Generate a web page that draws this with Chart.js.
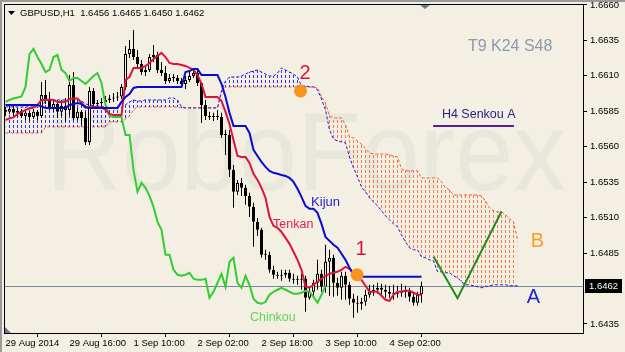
<!DOCTYPE html>
<html lang="en">
<head>
<meta charset="UTF-8">
<title>GBPUSD H1 Ichimoku</title>
<style>
    html, body { margin: 0; padding: 0; background: #f3f0e3; }
    #wrap { width: 625px; height: 352px; }
</style>
<script src="https://cdn.jsdelivr.net/npm/chart.js"></script>
</head>
<body>
<div id="wrap"><canvas id="chart" width="625" height="352"></canvas></div>
<script>
// H1 candles, bar 0 = 29 Aug 2014 00:00
const opens = [
    1.65860,1.65846,1.65867,1.65839,1.65853,1.65817,1.65839,1.65810,1.65846,1.65817,
    1.65965,1.65930,1.65874,1.65902,1.65846,1.65888,1.65860,1.66036,1.65803,1.65846,
    1.65803,1.65634,1.65994,1.65902,1.65909,1.65916,1.65930,1.65941,1.65948,1.65955,
    1.66022,1.66254,1.66290,1.66233,1.66184,1.66127,1.66142,1.66233,1.66247,1.66142,
    1.66120,1.66064,1.66085,1.66085,1.66064,1.66043,1.66071,1.66099,1.66120,1.66050,
    1.65895,1.65817,1.65810,1.65810,1.65810,1.65683,1.65683,1.65437,1.65282,1.65345,
    1.65310,1.65253,1.65176,1.65070,1.65014,1.64838,1.64838,1.64732,1.64697,1.64690,
    1.64697,1.64711,1.64669,1.64661,1.64661,1.64669,1.64534,1.64577,1.64640,1.64704,
    1.64612,1.64788,1.64816,1.64640,1.64605,1.64690,1.64626,1.64527,1.64499,1.64492,
    1.64506,1.64556,1.64577,1.64591,1.64605,1.64591,1.64577,1.64563,1.64563,1.64570,
    1.64584,1.64577,1.64541,1.64499,1.64560
];
const highs = [
    1.65881,1.65888,1.65895,1.65874,1.65867,1.65860,1.65853,1.65867,1.65860,1.66057,
    1.66071,1.65986,1.65930,1.65916,1.65930,1.65944,1.66106,1.66127,1.65874,1.65860,
    1.65846,1.66022,1.66015,1.65930,1.65944,1.65958,1.65965,1.65979,1.65986,1.66043,
    1.66311,1.66353,1.66424,1.66283,1.66212,1.66177,1.66254,1.66318,1.66268,1.66198,
    1.66170,1.66113,1.66113,1.66106,1.66085,1.66099,1.66142,1.66142,1.66142,1.66057,
    1.65930,1.65846,1.65839,1.65860,1.65839,1.65719,1.65719,1.65472,1.65366,1.65380,
    1.65331,1.65275,1.65204,1.65098,1.65028,1.64873,1.64859,1.64760,1.64718,1.64732,
    1.64732,1.64732,1.64704,1.64690,1.64704,1.64690,1.64605,1.64661,1.64802,1.64732,
    1.64908,1.64873,1.64838,1.64676,1.64718,1.64718,1.64647,1.64563,1.64549,1.64534,
    1.64591,1.64626,1.64626,1.64640,1.64633,1.64626,1.64619,1.64626,1.64619,1.64633,
    1.64619,1.64605,1.64577,1.64577,1.64650
];
const lows = [
    1.65817,1.65831,1.65817,1.65817,1.65803,1.65789,1.65782,1.65796,1.65789,1.65803,
    1.65902,1.65860,1.65846,1.65803,1.65817,1.65775,1.65824,1.65789,1.65789,1.65754,
    1.65613,1.65613,1.65874,1.65874,1.65874,1.65888,1.65909,1.65916,1.65923,1.65937,
    1.66001,1.66226,1.66212,1.66156,1.66106,1.66099,1.66127,1.66198,1.66120,1.66099,
    1.66043,1.66050,1.66057,1.66043,1.66015,1.66008,1.66057,1.66085,1.66029,1.65768,
    1.65789,1.65789,1.65782,1.65789,1.65662,1.65542,1.65387,1.65169,1.65260,1.65253,
    1.65190,1.65105,1.64894,1.64971,1.64816,1.64802,1.64711,1.64669,1.64669,1.64654,
    1.64676,1.64647,1.64633,1.64626,1.64591,1.64436,1.64520,1.64549,1.64591,1.64577,
    1.64570,1.64549,1.64541,1.64549,1.64520,1.64520,1.64485,1.64393,1.64429,1.64450,
    1.64478,1.64534,1.64549,1.64563,1.64556,1.64534,1.64534,1.64520,1.64534,1.64541,
    1.64534,1.64506,1.64478,1.64478,1.64500
];
const closes = [
    1.65846,1.65867,1.65839,1.65853,1.65817,1.65839,1.65810,1.65846,1.65817,1.65965,
    1.65930,1.65874,1.65902,1.65846,1.65888,1.65860,1.66036,1.65803,1.65846,1.65803,
    1.65634,1.65994,1.65902,1.65909,1.65916,1.65930,1.65941,1.65948,1.65955,1.66022,
    1.66254,1.66290,1.66233,1.66184,1.66127,1.66142,1.66233,1.66247,1.66142,1.66120,
    1.66064,1.66085,1.66085,1.66064,1.66043,1.66071,1.66099,1.66120,1.66050,1.65895,
    1.65817,1.65810,1.65810,1.65810,1.65683,1.65683,1.65437,1.65282,1.65345,1.65310,
    1.65253,1.65176,1.65070,1.65014,1.64838,1.64838,1.64732,1.64697,1.64690,1.64697,
    1.64711,1.64669,1.64661,1.64661,1.64669,1.64534,1.64577,1.64640,1.64704,1.64612,
    1.64788,1.64816,1.64640,1.64605,1.64690,1.64626,1.64527,1.64499,1.64492,1.64506,
    1.64556,1.64577,1.64591,1.64605,1.64591,1.64577,1.64563,1.64563,1.64570,1.64584,
    1.64577,1.64541,1.64499,1.64556,1.64620
];

// Ichimoku 9/24/48
const tenkan = [
    1.65789,1.65800,1.65807,1.65831,1.65846,1.65860,1.65870,1.65877,1.65895,1.65930,
    1.65930,1.65934,1.65930,1.65916,1.65916,1.65916,1.65937,1.65941,1.65941,1.65909,
    1.65881,1.65881,1.65881,1.65881,1.65877,1.65860,1.65831,1.65824,1.65824,1.65824,
    1.66071,1.66092,1.66156,1.66156,1.66156,1.66170,1.66191,1.66219,1.66240,1.66262,
    1.66233,1.66191,1.66184,1.66184,1.66177,1.66170,1.66156,1.66142,1.66106,1.66043,
    1.65951,1.65951,1.65951,1.65951,1.65923,1.65846,1.65761,1.65648,1.65535,1.65528,
    1.65528,1.65486,1.65409,1.65366,1.65310,1.65239,1.65105,1.65042,1.65028,1.64999,
    1.64957,1.64915,1.64859,1.64802,1.64732,1.64612,1.64605,1.64626,1.64647,1.64669,
    1.64690,1.64704,1.64711,1.64718,1.64732,1.64753,1.64739,1.64704,1.64697,1.64661,
    1.64619,1.64577,1.64577,1.64577,1.64549,1.64520,1.64513,1.64556,1.64577,1.64577,
    1.64584,1.64584,1.64570,1.64556,1.64556
];
const kijun = [
    1.65895,1.65895,1.65895,1.65895,1.65895,1.65895,1.65895,1.65895,1.65895,1.65884,
    1.65874,1.65874,1.65874,1.65874,1.65874,1.65874,1.65895,1.65902,1.65909,1.65902,
    1.65877,1.65874,1.65874,1.65874,1.65874,1.65874,1.65874,1.65874,1.65874,1.65916,
    1.65951,1.65972,1.66015,1.66022,1.66022,1.66022,1.66022,1.66022,1.66022,1.66022,
    1.66022,1.66022,1.66022,1.66022,1.66022,1.66127,1.66134,1.66149,1.66149,1.66106,
    1.66106,1.66106,1.66106,1.66106,1.66043,1.65951,1.65839,1.65747,1.65747,1.65747,
    1.65747,1.65697,1.65578,1.65535,1.65493,1.65458,1.65430,1.65416,1.65409,1.65401,
    1.65394,1.65380,1.65352,1.65303,1.65246,1.65183,1.65162,1.65162,1.65134,1.65056,
    1.64964,1.64936,1.64908,1.64887,1.64845,1.64802,1.64746,1.64704,1.64683,1.64683,
    1.64683,1.64683,1.64683,1.64683,1.64683,1.64683,1.64683,1.64683,1.64683,1.64683,
    1.64683,1.64683,1.64683,1.64683,1.64683
];
// cloud, already shifted 24 bars forward (bars 0..128)
const senkouA = [
    1.65881,1.65881,1.65881,1.65881,1.65881,1.65881,1.65881,1.65881,1.65881,1.65881,
    1.65923,1.65930,1.65930,1.65930,1.65930,1.65930,1.65930,1.65930,1.65930,1.65923,
    1.65902,1.65895,1.65891,1.65888,1.65884,1.65881,1.65877,1.65877,1.65877,1.65874,
    1.65895,1.65916,1.65930,1.65923,1.65923,1.65930,1.65930,1.65930,1.65930,1.65930,
    1.65930,1.65944,1.65944,1.65930,1.65881,1.65874,1.65874,1.65874,1.65874,1.65874,
    1.65874,1.65874,1.65874,1.65874,1.65994,1.66064,1.66092,1.66092,1.66092,1.66099,
    1.66113,1.66127,1.66134,1.66142,1.66127,1.66113,1.66099,1.66099,1.66120,1.66156,
    1.66142,1.66127,1.66113,1.66092,1.66029,1.66029,1.66022,1.66022,1.66001,1.65937,
    1.65860,1.65719,1.65655,1.65641,1.65634,1.65627,1.65528,1.65451,1.65387,1.65317,
    1.65282,1.65239,1.65211,1.65183,1.65148,1.65113,1.65084,1.65056,1.65035,1.64978,
    1.64929,1.64887,1.64873,1.64873,1.64823,1.64816,1.64802,1.64795,1.64718,1.64718,
    1.64711,1.64711,1.64690,1.64676,1.64647,1.64626,1.64626,1.64619,1.64612,1.64605,
    1.64612,1.64619,1.64626,1.64626,1.64626,1.64626,1.64619,1.64619,1.64619
];
const senkouB = [
    1.65697,1.65697,1.65697,1.65697,1.65697,1.65697,1.65697,1.65697,1.65697,1.65697,
    1.65740,1.65740,1.65740,1.65740,1.65740,1.65740,1.65740,1.65740,1.65740,1.65740,
    1.65740,1.65740,1.65740,1.65740,1.65740,1.65740,1.65775,1.65775,1.65775,1.65775,
    1.65796,1.65817,1.65860,1.65881,1.65881,1.65881,1.65881,1.65881,1.65881,1.65881,
    1.65881,1.65881,1.65881,1.65881,1.65874,1.65874,1.65874,1.65874,1.65874,1.65874,
    1.65874,1.65874,1.65874,1.65874,1.65986,1.66022,1.66022,1.66022,1.66022,1.66022,
    1.66022,1.66022,1.66022,1.66022,1.66022,1.66022,1.66022,1.66022,1.66022,1.66022,
    1.66022,1.66022,1.66022,1.66022,1.66022,1.66022,1.66022,1.66022,1.66015,1.65951,
    1.65909,1.65817,1.65803,1.65803,1.65803,1.65754,1.65669,1.65662,1.65641,1.65620,
    1.65585,1.65556,1.65549,1.65549,1.65549,1.65549,1.65542,1.65535,1.65528,1.65444,
    1.65430,1.65430,1.65430,1.65430,1.65380,1.65380,1.65380,1.65380,1.65380,1.65352,
    1.65310,1.65296,1.65260,1.65260,1.65260,1.65260,1.65260,1.65260,1.65260,1.65253,
    1.65218,1.65169,1.65148,1.65141,1.65141,1.65120,1.65091,1.65070,1.64943
];
// chinkou = close shifted 24 bars back
const chinkou = closes.slice(24);

// hand-drawn forecast and marked points
const projIdx = [107, 113, 124];
const projVals = [1.64825, 1.64532, 1.65143];
const markIdx = [73.75, 87.9];
const markVals = [1.65994, 1.64697];

const xTickIdx = [0, 16, 32, 48, 64, 80, 96];
const xTickLabels = ['29 Aug 2014', '29 Aug 16:00', '1 Sep 10:00', '2 Sep 02:00', '2 Sep 18:00', '3 Sep 10:00', '4 Sep 02:00'];
const yTicks = [1.6660, 1.6635, 1.6610, 1.6585, 1.6560, 1.6535, 1.6510, 1.6485, 1.6435];
const lastPrice = 1.6462;

const BG = '#f3f0e3';
const FONT = "'Liberation Sans', Arial, sans-serif";
Chart.defaults.font.family = FONT;

const canvas = document.getElementById('chart');
const cctx = canvas.getContext('2d');

// vertical dashed hatch used inside the cloud
function hatch(color) {
    const c = document.createElement('canvas');
    c.width = 4; c.height = 5;
    const g = c.getContext('2d');
    g.fillStyle = color;
    g.fillRect(1, 0, 1, 3);
    return cctx.createPattern(c, 'repeat');
}

const pts = (vals, idx) => vals.map((v, i) => ({ x: idx ? idx[i] : i, y: v }));

// text notes placed in chart units (bar index, price)
const notes = [
    { text: '2', i: 74.9, v: 1.66078, size: 20, color: '#dc143c', align: 'center' },
    { text: '1', i: 88.9, v: 1.64838, size: 20, color: '#dc143c', align: 'center' },
    { text: 'Kijun', i: 76.4, v: 1.65183, size: 13, color: '#2323d3', align: 'left' },
    { text: 'Tenkan', i: 66.9, v: 1.65028, size: 12.5, color: '#e0204a', align: 'left' },
    { text: 'Chinkou', i: 61.1, v: 1.64372, size: 12.5, color: '#66d455', align: 'left' },
    { text: 'T9 K24 S48', i: 115.6, v: 1.66276, size: 16, color: '#8d99ab', align: 'left' },
    { text: 'H4 Senkou A', i: 109.1, v: 1.65803, size: 12.5, color: '#24248f', align: 'left' },
    { text: 'B', i: 133, v: 1.64894, size: 20, color: '#ff9a22', align: 'center' },
    { text: 'A', i: 132, v: 1.64499, size: 20, color: '#2020cc', align: 'center' }
];

const decor = {
    id: 'decor',
    beforeDraw(chart) {
        const { ctx, width, height } = chart;
        ctx.save();
        ctx.fillStyle = BG;
        ctx.fillRect(0, 0, width, height);
        // faint broker watermark
        ctx.font = '112px ' + FONT;
        ctx.fillStyle = '#e8e7db';
        ctx.textBaseline = 'alphabetic';
        const w = ctx.measureText('RoboForex').width;
        ctx.translate(46, 190);
        ctx.scale(520 / w, 1);
        ctx.fillText('RoboForex', 0, 0);
        ctx.restore();
    },
    beforeDatasetsDraw(chart) {
        const { ctx, chartArea: a, scales } = chart;
        const y = Math.round(scales.y.getPixelForValue(lastPrice)) + 0.5;
        ctx.save();
        ctx.strokeStyle = '#778899';
        ctx.lineWidth = 1;
        ctx.beginPath();
        ctx.moveTo(a.left, y);
        ctx.lineTo(a.right, y);
        ctx.stroke();
        ctx.restore();
    },
    afterDraw(chart) {
        const { ctx, chartArea: a, scales } = chart;
        ctx.save();
        // window frame
        ctx.fillStyle = '#9a9a9a';
        ctx.fillRect(0, 0, chart.width, 2);
        ctx.fillRect(0, 0, 2, chart.height);
        ctx.strokeStyle = '#000';
        ctx.lineWidth = 1;
        ctx.strokeRect(a.left + 0.5, a.top + 0.5, a.right - a.left, a.bottom - a.top);

        // current price box
        const py = Math.round(scales.y.getPixelForValue(lastPrice));
        ctx.fillStyle = '#000';
        ctx.fillRect(a.right + 2, py - 7, 37, 14);
        ctx.fillStyle = '#fff';
        ctx.font = '9.5px ' + FONT;
        ctx.textAlign = 'left';
        ctx.textBaseline = 'middle';
        ctx.fillText(lastPrice.toFixed(4), a.right + 6, py);

        // header
        ctx.fillStyle = '#000';
        ctx.beginPath();
        ctx.moveTo(8, 11); ctx.lineTo(15, 11); ctx.lineTo(11.5, 15); ctx.closePath();
        ctx.fill();
        ctx.fillText('GBPUSD,H1  1.6456 1.6465 1.6450 1.6462', 20, 13);

        // chart shift marker and scroll corner
        ctx.fillStyle = '#6c7a8a';
        ctx.beginPath();
        ctx.moveTo(420, 5); ctx.lineTo(430, 5); ctx.lineTo(425, 9); ctx.closePath();
        ctx.fill();
        ctx.beginPath();
        ctx.moveTo(5, 327); ctx.lineTo(5, 333); ctx.lineTo(11, 333); ctx.closePath();
        ctx.fill();

        // notes
        notes.forEach(n => {
            ctx.font = n.size + 'px ' + FONT;
            ctx.fillStyle = n.color;
            ctx.textAlign = n.align;
            ctx.textBaseline = 'alphabetic';
            ctx.fillText(n.text, scales.x.getPixelForValue(n.i), scales.y.getPixelForValue(n.v));
        });
        // underline of the H4 Senkou A note
        const uy = Math.round(scales.y.getPixelForValue(1.6575));
        ctx.fillStyle = '#5a1e96';
        ctx.fillRect(scales.x.getPixelForValue(106.9), uy, scales.x.getPixelForValue(127.1) - scales.x.getPixelForValue(106.9), 2);
        ctx.restore();
    }
};

new Chart(canvas, {
    type: 'line',
    data: {
        datasets: [
            {
                type: 'line', data: pts(projVals, projIdx), borderColor: '#1e8c1e', borderWidth: 2,
                pointRadius: 0, fill: false, order: 0
            },
            {
                type: 'scatter', data: pts(markVals, markIdx), backgroundColor: '#f7941d',
                borderWidth: 0, pointRadius: 6.5, order: 0
            },
            {
                type: 'line', data: pts(kijun), borderColor: '#0a0ad0', borderWidth: 2,
                pointRadius: 0, fill: false, order: 1
            },
            {
                type: 'line', data: pts(tenkan), borderColor: '#dc143c', borderWidth: 2,
                pointRadius: 0, fill: false, order: 2
            },
            {
                type: 'line', data: pts(chinkou), borderColor: '#32cd32', borderWidth: 2,
                pointRadius: 0, fill: false, order: 3
            },
            {
                type: 'bar', data: opens.map((o, i) => ({ x: i, y: [o, closes[i]] })),
                backgroundColor: opens.map((o, i) => closes[i] >= o ? BG : '#000'),
                borderColor: '#000', borderWidth: 1, borderSkipped: false, minBarLength: 1,
                barThickness: 3, grouped: false, inflateAmount: 0, order: 5
            },
            {
                type: 'bar', data: lows.map((l, i) => ({ x: i, y: [l, highs[i]] })),
                backgroundColor: '#000', borderWidth: 0, barThickness: 1, grouped: false,
                inflateAmount: 0, order: 6
            },
            {
                type: 'line', data: pts(senkouA), borderColor: '#1a1aee', borderWidth: 1,
                borderDash: [3, 2], pointRadius: 0, order: 8,
                fill: { target: '+1', above: hatch('#3030e8'), below: hatch('#f27a4f') }
            },
            {
                type: 'line', data: pts(senkouB), borderColor: '#ff5a1f', borderWidth: 1,
                borderDash: [3, 2], pointRadius: 0, fill: false, order: 9
            }
        ]
    },
    options: {
        responsive: false,
        animation: false,
        devicePixelRatio: 1,
        events: [],
        layout: { padding: { top: 4, left: 4, right: 0, bottom: 0 }, autoPadding: false },
        plugins: { legend: { display: false }, tooltip: { enabled: false } },
        scales: {
            x: {
                type: 'linear', min: -0.375, max: 144.375, offset: false,
                afterBuildTicks: s => { s.ticks = xTickIdx.map(v => ({ value: v })); },
                afterFit: s => { s.height = 19; s.paddingLeft = 0; s.paddingRight = 0; },
                ticks: {
                    autoSkip: false, maxRotation: 0, align: 'start', padding: 1,
                    color: '#000', font: { size: 9.5 },
                    callback: (v, i) => xTickLabels[i]
                },
                grid: { drawOnChartArea: false, tickLength: 4, color: '#000' },
                border: { color: '#000' }
            },
            y: {
                type: 'linear', position: 'right', min: 1.64286, max: 1.66607,
                afterBuildTicks: s => { s.ticks = yTicks.map(v => ({ value: v })); },
                afterFit: s => { s.width = 42; s.paddingTop = 0; s.paddingBottom = 0; },
                ticks: { padding: 3, color: '#000', font: { size: 9.5 }, callback: v => v.toFixed(4) },
                grid: { drawOnChartArea: false, tickLength: 4, color: '#000' },
                border: { color: '#000' }
            }
        }
    },
    plugins: [decor]
});
</script>
</body>
</html>
